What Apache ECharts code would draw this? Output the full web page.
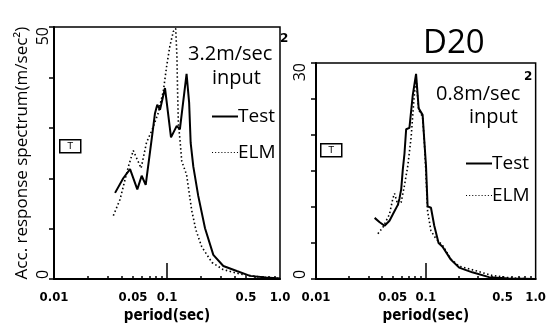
<!DOCTYPE html>
<html>
<head>
<meta charset="utf-8">
<script src="https://cdn.jsdelivr.net/npm/echarts@6/dist/echarts.min.js"></script>
<style>html,body{margin:0;padding:0;background:#fff}#c{width:549px;height:329px}</style>
</head>
<body>
<div id="c"></div>
<script>
// ---- data ----
const leftTestPeriod = [0.0347,0.041,0.0471,0.0546,0.0597,0.0648,0.0707,0.0745,0.0783,0.082,0.0867,0.096,0.1085,0.122,0.130,0.149,0.157,0.162,0.171,0.189,0.217,0.257,0.315,0.414,0.543,0.75,1.0];
const leftTestAcc    = [17.1,20.0,21.8,17.8,20.5,18.7,25.2,29.1,32.9,34.6,33.6,37.9,28.1,30.4,29.7,40.7,35,27,22.3,16.5,10.1,4.8,2.6,1.6,0.64,0.3,0.1];
const leftElmPeriod  = [0.0335,0.0384,0.0425,0.0455,0.0503,0.0521,0.059,0.0659,0.0735,0.0838,0.0867,0.0927,0.0994,0.106,0.1137,0.1194,0.1225,0.124,0.126,0.130,0.133,0.135,0.149,0.1655,0.1805,0.203,0.250,0.313,0.443,0.665,1.0];
const leftElmAcc     = [12.6,15.8,19.7,22.3,25.5,25.8,22.0,27.1,29.5,33,34.6,37.2,42.3,46.2,49.1,49.7,44,37.5,31,27.8,25.2,23.4,20.7,13.6,9.7,6.4,3.3,1.9,1.0,0.4,0.1];
const rightTestPeriod = [0.0342,0.038,0.0421,0.0467,0.0501,0.0556,0.0576,0.0597,0.0617,0.0639,0.0662,0.0709,0.076,0.0815,0.0861,0.0935,0.0969,0.1004,0.1038,0.1114,0.1194,0.1306,0.142,0.169,0.201,0.265,0.376,0.57,1.0];
const rightTestAcc    = [8.5,7.9,7.4,8.1,9.0,10.3,11.2,12.5,15.2,17.4,20.8,21.0,25.5,28.5,23.7,22.8,19.2,15.7,10.1,9.9,7.4,5.0,4.5,2.7,1.6,0.94,0.27,0.1,0];
const rightElmPeriod  = [0.0366,0.0407,0.0467,0.0501,0.0519,0.0556,0.0597,0.0639,0.0685,0.0735,0.078,0.0815,0.0861,0.0935,0.097,0.1,0.1038,0.1114,0.1237,0.142,0.169,0.2,0.285,0.402,0.6,1.0];
const rightElmAcc     = [6.3,7.2,9.0,11.2,11.9,10.3,10.7,13.0,15.7,19.7,25,28,23.5,22.5,19,15,9.4,6.7,5.6,4.7,2.8,1.8,1.16,0.5,0.15,0];

const xLabelValues = [0.01,0.05,0.1,0.5,1];
const xMinorTicks = [0.02,0.03,0.04,0.05,0.06,0.07,0.08,0.09,0.2,0.3,0.4,0.5,0.6,0.7,0.8,0.9];
const xMajorTick = [0.1];
const leftYLabels = [0,50];
const rightYLabels = [0,30];

const pairs = (a,b) => a.map((v,i)=>[v,b[i]]);

const tickFont = {color:'#000', fontFamily:'DejaVu Sans Condensed, DejaVu Sans', fontWeight:'bold', fontSize:13};
const mainFont = 'Open Sans, Noto Sans, sans-serif';

function xAxisMain(gi){
  return {
    gridIndex:gi, type:'log', logBase:10, min:0.01, max:1, position:'bottom',
    axisLine:{lineStyle:{color:'#000',width:2}},
    axisTick:{show:false},
    axisLabel:Object.assign({customValues:xLabelValues, margin:12,
      formatter:v => (v===1 ? '1.0' : String(v))}, tickFont),
    splitLine:{show:false},
    name:'period(sec)', nameLocation:'middle', nameGap:25,
    nameTextStyle:{color:'#000', fontFamily:'DejaVu Sans Condensed, DejaVu Sans', fontWeight:'bold', fontSize:15}
  };
}
function xAxisTicks(gi, vals, len, width){
  return {
    gridIndex:gi, type:'log', logBase:10, min:0.01, max:1, position:'bottom',
    axisLine:{show:false},
    axisTick:{inside:true,length:len,customValues:vals,lineStyle:{color:'#000',width:width}},
    axisLabel:{show:false}, splitLine:{show:false}
  };
}
function yAxis(gi, max, interval, labels, margin, withName){
  const a = {
    gridIndex:gi, type:'value', min:0, max:max, interval:interval,
    axisLine:{show:true,lineStyle:{color:'#000',width:2}},
    axisTick:{show:true,length:5,lineStyle:{color:'#000',width:1.5}},
    axisLabel:{customValues:labels, rotate:90, margin:margin, color:'#000', fontFamily:mainFont, fontSize:16,
      alignMinLabel:'left', alignMaxLabel:'right'},
    splitLine:{show:false}
  };
  if(withName){
    a.name = 'Acc. response spectrum(m/sec\u00B2)';
    a.nameLocation = 'middle'; a.nameRotate = 90; a.nameGap = 23;
    a.nameTextStyle = {color:'#000', fontFamily:mainFont, fontSize:17};
  }
  return a;
}
const solid = {color:'#000', width:2, type:'solid'};
const dotted = {color:'#000', width:1.6, type:[1.5,2.5]};
const dotIcon = 'path://M0,0h1v1h-1zM3,0h1v1h-1zM6,0h1v1h-1zM9,0h1v1h-1zM12,0h1v1h-1zM15,0h1v1h-1zM18,0h1v1h-1zM21,0h1v1h-1zM24,0h1v1h-1z';

function boxT(x,y){
  return {type:'group', left:x, top:y, children:[
    {type:'rect', shape:{x:0,y:0,width:21,height:13}, style:{fill:'#fff', stroke:'#000', lineWidth:1.5}},
    {type:'text', x:10.5, y:7, style:{text:'T', fill:'#000', font:'9px DejaVu Sans', align:'center', verticalAlign:'middle'}}
  ]};
}
function legendCfg(left, top, gap){
  return {orient:'vertical', left:left, top:top, itemWidth:26, itemHeight:2, itemGap:gap, selectedMode:false,
    data:[{name:'Test', icon:'rect'}, {name:'ELM', icon:dotIcon}],
    itemStyle:{color:'#000'},
    textStyle:{color:'#000', fontFamily:mainFont, fontSize:19, padding:[0,0,0,-5]}};
}

const option = {
  animation:false,
  backgroundColor:'#fff',
  grid:[
    {left:54, top:27, width:226, height:258, show:true, borderColor:'#000', borderWidth:1.5},
    {left:316, top:63, width:223, height:224, show:true, borderColor:'#000', borderWidth:1.5}
  ],
  xAxis:[
    xAxisMain(0), xAxisTicks(0, xMinorTicks, 3, 1.5), xAxisTicks(0, xMajorTick, 16, 1.5),
    xAxisMain(1), xAxisTicks(1, xMinorTicks, 3, 1.5), xAxisTicks(1, xMajorTick, 16, 1.5)
  ],
  yAxis:[yAxis(0,50,10,leftYLabels,3,true), yAxis(1,30,5,rightYLabels,8,false)],
  legend:[legendCfg(207,102,17), legendCfg(461,149,13)],
  title:[
    {text:'D20', left:418, top:22, textStyle:{color:'#000', fontFamily:mainFont, fontWeight:'normal', fontSize:33}}
  ],
  graphic:[
    {type:'text', left:188, top:44, style:{text:'3.2m/sec', fill:'#000', font:'20px Open Sans'}},
    {type:'text', left:280, top:33, style:{text:'2', fill:'#000', font:'bold 12px DejaVu Sans'}},
    {type:'text', left:212, top:68, style:{text:'input', fill:'#000', font:'20px Open Sans'}},
    {type:'text', left:436, top:84, style:{text:'0.8m/sec', fill:'#000', font:'20px Open Sans'}},
    {type:'text', left:524, top:71, style:{text:'2', fill:'#000', font:'bold 12px DejaVu Sans'}},
    {type:'text', left:469, top:107, style:{text:'input', fill:'#000', font:'20px Open Sans'}},
    boxT(59,139), boxT(320,143)
  ],
  series:[
    {name:'Test', type:'line', xAxisIndex:0, yAxisIndex:0, data:pairs(leftTestPeriod,leftTestAcc), showSymbol:false, symbol:'none', lineStyle:solid, itemStyle:{color:'#000'}},
    {name:'ELM', type:'line', xAxisIndex:0, yAxisIndex:0, data:pairs(leftElmPeriod,leftElmAcc), showSymbol:false, symbol:'none', lineStyle:dotted, itemStyle:{color:'#000'}},
    {name:'Test', type:'line', xAxisIndex:3, yAxisIndex:1, data:pairs(rightTestPeriod,rightTestAcc), showSymbol:false, symbol:'none', lineStyle:solid, itemStyle:{color:'#000'}},
    {name:'ELM', type:'line', xAxisIndex:3, yAxisIndex:1, data:pairs(rightElmPeriod,rightElmAcc), showSymbol:false, symbol:'none', lineStyle:dotted, itemStyle:{color:'#000'}}
  ]
};
const chart = echarts.init(document.getElementById('c'), null, {renderer:'canvas'});
chart.setOption(option);
</script>
</body>
</html>
